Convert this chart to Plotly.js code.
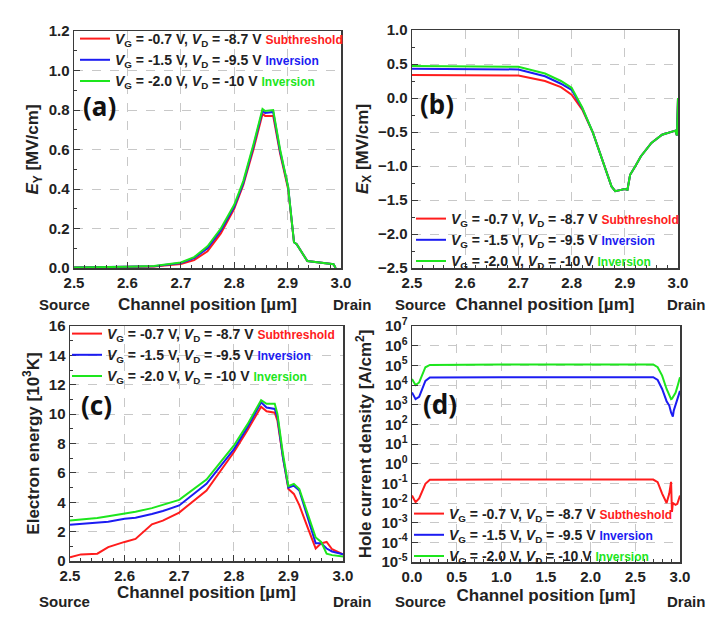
<!DOCTYPE html>
<html>
<head>
<meta charset="utf-8">
<script src="https://cdn.plot.ly/plotly-3.0.1.min.js"></script>
<style>
	html, body { margin: 0; padding: 0; background: #fff; }
	#chart { width: 721px; height: 628px; }
</style>
</head>
<body>
<div id="chart"></div>
<script>
// (a) vertical field E_Y [MV/cm]
const posA = [2.5, 2.55, 2.6, 2.65, 2.7, 2.725, 2.75, 2.775, 2.8, 2.817, 2.836, 2.853, 2.858, 2.873, 2.886, 2.901, 2.912, 2.917, 2.937, 2.986, 2.99];
const eyRed = [0.002, 0.003, 0.004, 0.007, 0.02, 0.04, 0.085, 0.175, 0.3, 0.42, 0.6, 0.78, 0.77, 0.77, 0.58, 0.4, 0.13, 0.12, 0.035, 0.019, 0.0];
const eyBlue = [0.003, 0.004, 0.005, 0.009, 0.025, 0.05, 0.1, 0.19, 0.31, 0.43, 0.615, 0.795, 0.785, 0.79, 0.59, 0.41, 0.13, 0.12, 0.035, 0.019, 0.0];
const eyGreen = [0.003, 0.004, 0.006, 0.01, 0.028, 0.055, 0.11, 0.2, 0.32, 0.44, 0.625, 0.805, 0.795, 0.8, 0.6, 0.41, 0.13, 0.12, 0.035, 0.019, 0.0];

// (b) lateral field E_X [MV/cm]
const posB = [2.5, 2.6, 2.7, 2.75, 2.78, 2.8, 2.82, 2.84, 2.86, 2.875, 2.882, 2.9, 2.905, 2.91, 2.92, 2.93, 2.95, 2.97, 2.995, 2.998, 3.0];
const exRed = [0.34, 0.34, 0.33, 0.25, 0.16, 0.05, -0.17, -0.51, -0.96, -1.3, -1.37, -1.34, -1.35, -1.13, -1.0, -0.86, -0.66, -0.54, -0.48, -0.55, 0.0];
const exBlue = [0.43, 0.43, 0.42, 0.32, 0.21, 0.12, -0.15, -0.51, -0.96, -1.3, -1.37, -1.34, -1.35, -1.13, -1.0, -0.86, -0.66, -0.54, -0.48, -0.55, 0.0];
const exGreen = [0.47, 0.47, 0.46, 0.36, 0.25, 0.15, -0.14, -0.51, -0.96, -1.3, -1.37, -1.34, -1.35, -1.13, -1.0, -0.86, -0.66, -0.54, -0.48, -0.55, 0.0];

// (c) electron energy [10^3 K]
const posC = [2.5, 2.52, 2.55, 2.57, 2.6, 2.62, 2.65, 2.67, 2.7, 2.75, 2.8, 2.825, 2.85, 2.86, 2.875, 2.88, 2.89, 2.9, 2.91, 2.92, 2.935, 2.95, 2.96, 2.97, 2.98, 3.0];
const enRed = [0.25, 0.45, 0.5, 0.95, 1.3, 1.5, 2.5, 2.75, 3.3, 4.8, 7.4, 8.9, 10.5, 10.2, 10.1, 9.55, 7.06, 4.9, 4.57, 3.8, 2.3, 0.85, 1.2, 1.3, 0.8, 0.45];
const enBlue = [2.47, 2.52, 2.6, 2.68, 2.87, 2.95, 3.2, 3.4, 3.78, 5.25, 7.6, 9.1, 10.8, 10.45, 10.35, 9.8, 7.06, 5.0, 5.13, 4.8, 3.0, 1.2, 1.2, 0.85, 0.65, 0.45];
const enGreen = [2.76, 2.82, 2.92, 3.05, 3.2, 3.35, 3.6, 3.82, 4.16, 5.54, 7.85, 9.3, 10.95, 10.7, 10.7, 10.0, 7.3, 5.1, 5.25, 4.9, 3.2, 1.6, 1.3, 0.5, 0.4, 0.3];

// (d) hole current density [A/cm^2]
const posD = [0, 0.04, 0.08, 0.15, 0.2, 0.5, 1.0, 1.5, 2.0, 2.5, 2.7, 2.75, 2.8, 2.85, 2.88, 2.9, 2.91, 2.92, 2.93, 2.95, 2.97, 3.0];
const jRed = [0.024, 0.011, 0.017, 0.095, 0.15, 0.155, 0.155, 0.155, 0.155, 0.155, 0.155, 0.115, 0.03, 0.01, 0.03, 0.12, 0.0035, 0.01, 0.009, 0.008, 0.009, 0.024];
const jBlue = [4200, 1900, 2500, 16000, 24000, 25000, 25000, 25000, 25000, 25000, 25000, 18000, 6300, 1500, 900, 400, 300, 250, 500, 1000, 1500, 5000];
const jGreen = [20000, 10000, 13500, 80000, 105000, 110000, 110000, 110000, 110000, 110000, 110000, 80000, 30000, 6300, 3000, 1900, 2000, 2300, 2800, 4000, 8000, 25000];
const logTicks = [7, 6, 5, 4, 3, 2, 1, 0, -1, -2, -3, -4, -5];

const biasLabels = [
	'<i>V</i><sub>G</sub> = -0.7 V, <i>V</i><sub>D</sub> = -8.7 V ',
	'<i>V</i><sub>G</sub> = -1.5 V, <i>V</i><sub>D</sub> = -9.5 V ',
	'<i>V</i><sub>G</sub> = -2.0 V, <i>V</i><sub>D</sub> = -10 V '
];
const regimeA = ['Subthreshold', 'Inversion', 'Inversion'];
const regimeD = ['Subtheshold', 'Inversion', 'Inversion'];
const colors = ['#ff1c1c', '#1c1cf2', '#1de61d'];

const FONT = 'Liberation Sans, Arial, sans-serif';
const W = 721, H = 628;
const px = v => v / W;
const py = v => 1 - v / H;

function makeSeries(x, ys, xa, ya, legend, regimes) {
	return ys.map((y, i) => ({
		x: x,
		y: y,
		xaxis: xa,
		yaxis: ya,
		legend: legend,
		type: 'scatter',
		mode: 'lines',
		line: { color: colors[i], width: 2 },
		name: biasLabels[i] + '<span style="font-size:12px;color:' + colors[i] + '">' + regimes[i] + '</span>',
	}));
}

const data = [
	...makeSeries(posA, [eyRed, eyBlue, eyGreen], 'x', 'y', 'legend', regimeA),
	...makeSeries(posB, [exRed, exBlue, exGreen], 'x2', 'y2', 'legend2', regimeA),
	...makeSeries(posC, [enRed, enBlue, enGreen], 'x3', 'y3', 'legend3', regimeA),
	...makeSeries(posD, [jRed, jBlue, jGreen], 'x4', 'y4', 'legend4', regimeD),
];

function axisBase(extra) {
	return Object.assign({
		showline: true,
		mirror: true,
		linecolor: '#3a3a3a',
		linewidth: 1.5,
		ticks: 'inside',
		ticklen: 6,
		tickcolor: '#3a3a3a',
		showgrid: true,
		gridcolor: '#c8c8c8',
		griddash: 'dash',
		zeroline: false,
		fixedrange: true,
		tickfont: { family: FONT, size: 15, weight: 'bold', color: '#222' },
	}, extra);
}

function xAxis(domain, anchor, range, dtick, minorDtick, standoff) {
	return axisBase({
		domain: domain,
		anchor: anchor,
		range: range,
		dtick: dtick,
		tickformat: '.1f',
		minor: { dtick: minorDtick, ticks: 'inside', ticklen: 3, tickcolor: '#3a3a3a', showgrid: false },
		title: { text: 'Channel position [µm]', standoff: standoff, font: { family: FONT, size: 17, weight: 'bold', color: '#222' } },
	});
}

function yAxis(domain, anchor, extra, titleText) {
	return axisBase(Object.assign({
		domain: domain,
		anchor: anchor,
		title: { text: titleText, standoff: 5, font: { family: FONT, size: 17, weight: 'bold', color: '#222' } },
	}, extra));
}

function legendAt(left, top) {
	return {
		x: px(left),
		y: py(top),
		xanchor: 'left',
		yanchor: 'top',
		bgcolor: 'rgba(0,0,0,0)',
		borderwidth: 0,
		tracegroupgap: 0,
		font: { family: FONT, size: 14, weight: 'bold', color: '#222' },
	};
}

const sideNotes = [];
[[64, 352, 305], [420, 686, 305], [64, 352, 601], [420, 686, 601]].forEach(([s, d, yy]) => {
	sideNotes.push({ text: 'Source', x: px(s), y: py(yy) });
	sideNotes.push({ text: 'Drain', x: px(d), y: py(yy) });
});

const panelTags = [['(a)', 99, 106], ['(b)', 437, 104], ['(c)', 96, 405], ['(d)', 440, 404]];

const annotations = [
	...sideNotes.map(n => ({
		xref: 'paper', yref: 'paper', x: n.x, y: n.y, text: n.text, showarrow: false,
		xanchor: 'center', yanchor: 'middle',
		font: { family: FONT, size: 15, weight: 'bold', color: '#222' },
	})),
	...panelTags.map(([t, x, y]) => ({
		xref: 'paper', yref: 'paper', x: px(x), y: py(y), text: t, showarrow: false,
		xanchor: 'center', yanchor: 'middle',
		font: { family: 'Noto Sans, ' + FONT, size: 26, weight: 'bold', color: '#111' },
	})),
];

const layout = {
	width: W,
	height: H,
	margin: { l: 0, r: 0, t: 0, b: 0 },
	paper_bgcolor: '#fff',
	plot_bgcolor: '#fff',
	showlegend: true,
	xaxis: xAxis([px(74), px(341)], 'y', [2.5, 3.0], 0.1, 0.02, 8),
	yaxis: yAxis([py(268), py(31)], 'x', { range: [0, 1.2], dtick: 0.2, tickformat: '.1f',
		minor: { dtick: 0.1, ticks: 'inside', ticklen: 3, tickcolor: '#3a3a3a', showgrid: false } },
		'<i>E</i><sub>Y</sub> [MV/cm]'),
	xaxis2: xAxis([px(412), px(678)], 'y2', [2.5, 3.0], 0.1, 0.02, 8),
	yaxis2: yAxis([py(268), py(30)], 'x2', { range: [-2.5, 1.0], dtick: 0.5, tickformat: '.1f',
		minor: { dtick: 0.25, ticks: 'inside', ticklen: 3, tickcolor: '#3a3a3a', showgrid: false } },
		'<i>E</i><sub>X</sub> [MV/cm]'),
	xaxis3: xAxis([px(70), px(343)], 'y3', [2.5, 3.0], 0.1, 0.02, 2),
	yaxis3: yAxis([py(561), py(326)], 'x3', { range: [0, 16], dtick: 2,
		minor: { dtick: 1, ticks: 'inside', ticklen: 3, tickcolor: '#3a3a3a', showgrid: false } },
		'Electron energy [10<sup>3</sup>K]'),
	xaxis4: xAxis([px(412), px(680)], 'y4', [0, 3.0], 0.5, 0.1, 5),
	yaxis4: yAxis([py(562), py(326)], 'x4', { type: 'log', range: [-5, 7],
		tickvals: logTicks.map(p => Math.pow(10, p)),
		ticktext: logTicks.map(p => '10<sup>' + p + '</sup>') },
		'Hole current density [A/cm<sup>2</sup>]'),
	legend: legendAt(75, 23),
	legend2: legendAt(411, 203),
	legend3: legendAt(67, 318),
	legend4: legendAt(409, 498),
	annotations: annotations,
};

Plotly.newPlot('chart', data, layout, { displayModeBar: false, staticPlot: true });
</script>
</body>
</html>
